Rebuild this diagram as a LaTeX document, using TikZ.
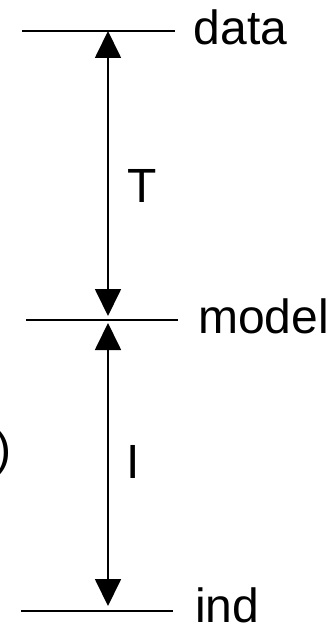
\documentclass[tikz,border=0pt]{standalone}
\usepackage{fontspec}
\setmainfont{Liberation Sans}
\usetikzlibrary{arrows.meta}
\begin{document}
\begin{tikzpicture}[x=1pt,y=-1pt,
  level/.style={line width=1.8pt},
  dim/.style={line width=1.8pt,{Triangle[width=26pt,length=27pt]}-{Triangle[width=26pt,length=27pt]}},
  lbl/.style={anchor=base west,inner sep=0pt,font=\fontsize{48}{56}\selectfont}]
\useasboundingbox (0,0) rectangle (335,626);
% level lines
\coordinate (d1) at (22,31);  \coordinate (d2) at (175,31);
\coordinate (m1) at (26,320); \coordinate (m2) at (178,320);
\coordinate (i1) at (21,611); \coordinate (i2) at (173,611);
\draw[level] (d1) -- (d2);
\draw[level] (m1) -- (m2);
\draw[level] (i1) -- (i2);
% labels
\node[lbl] (data)  at (193.5,45) {data};
\node[lbl] (model) at (198,333) {model};
\node[lbl] (ind)   at (195,622) {ind};
% arrows
\coordinate (aT1) at (108,31);  \coordinate (aT2) at (108,316);
\coordinate (aI1) at (108,323); \coordinate (aI2) at (108,606);
\draw[dim] (aT1) -- (aT2);
\draw[dim] (aI1) -- (aI2);
\node[lbl] (T) at (127,202) {T};
\node[lbl] (I) at (126.5,478) {I};
% partial bracket at left edge
\node[anchor=base east,inner sep=0pt,font=\fontsize{48}{56}\selectfont] (paren) at (11.5,465) {)};
\end{tikzpicture}
\end{document}
